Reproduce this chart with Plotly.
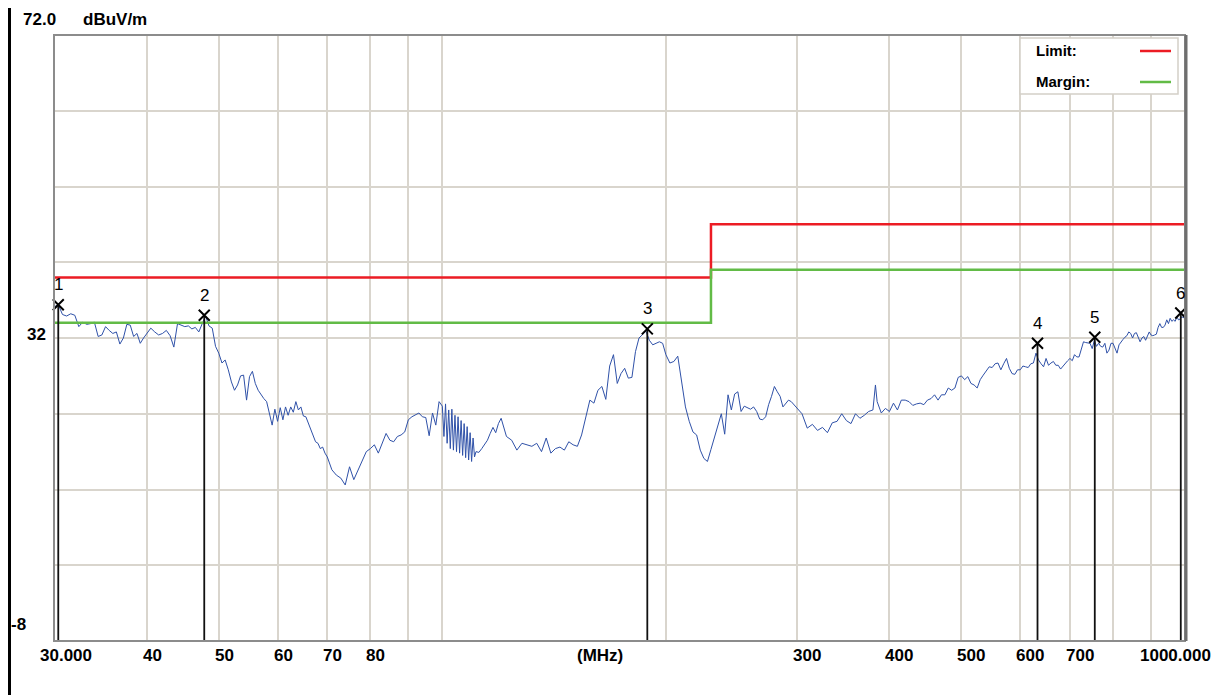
import math
import plotly.graph_objects as go

# ---------------- data ----------------
freq_mhz = [
    30.0, 30.4, 30.8, 31.2, 31.6, 32.0, 32.4, 32.8, 33.2, 33.6, 34.0, 34.4, 34.8, 35.2, 35.6, 36.0,
    36.4, 36.8, 37.2, 37.6, 38.0, 38.4, 38.8, 39.2, 39.6, 40.0,
    40.5, 41.0, 41.5, 42.0, 42.5, 43.0, 43.5, 44.0, 44.5, 45.0, 45.5, 46.0, 46.5, 47.0, 47.5, 48.0,
    48.5, 49.0, 49.5, 50.0,
    50.5, 51.0, 51.5, 52.0, 52.5, 53.0, 53.5, 54.0, 54.5, 55.0, 55.5, 56.0, 56.5, 57.0, 57.5, 58.0,
    58.5, 59.0, 59.5, 60.0,
    60.5, 61.0, 61.5, 62.0, 62.5, 63.0, 63.5, 64.0, 64.5, 65.0, 65.5, 66.0, 66.5, 67.0, 67.5, 68.0,
    68.5, 69.0, 69.5, 70.0,
    71, 72, 73, 74, 75, 76, 77, 78, 79, 80,
    81, 82, 83, 84, 85, 86, 87, 88, 89, 90,
    91, 92, 93, 94, 95, 96, 97, 98, 99, 100,
    100.5, 101, 101.5, 102, 102.5, 103, 103.5, 104, 104.5, 105, 105.5, 106, 106.5, 107, 107.5, 108,
    108.5, 109, 109.5, 110, 110.5,
    111, 112, 113, 114, 115, 116, 117, 118, 119, 120,
    122, 124, 126, 128, 130, 132, 134, 136, 138, 140,
    142, 144, 146, 148, 150, 152, 154, 156, 158, 160,
    162, 164, 166, 168, 170, 172, 174, 176, 178, 180,
    182, 184, 186, 188, 190, 192, 194, 196, 198, 200,
    202.5, 205, 207.5, 210, 212.5, 215, 217.5, 220, 222.5, 225, 227.5, 230, 232.5, 235, 237.5, 240,
    242.5, 245, 247.5, 250, 252.5, 255, 257.5, 260, 262.5, 265, 267.5, 270, 272.5, 275, 277.5, 280,
    282.5, 285, 287.5, 290, 292.5, 295, 297.5, 300,
    305, 310, 315, 320, 325, 330, 335, 340, 345, 350, 355, 360, 365, 370, 375, 380, 383, 385, 390,
    395, 400,
    405, 410, 415, 420, 425, 430, 435, 440, 445, 450, 455, 460, 465, 470, 475, 480, 485, 490, 495, 500,
    505, 510, 515, 520, 525, 530, 535, 540, 545, 550, 555, 560, 565, 570, 575, 580, 585, 590, 595, 600,
    605, 610, 615, 620, 625, 630, 635, 640, 645, 650, 655, 660, 665, 670, 675, 680, 685, 690, 695, 700,
    705, 710, 715, 720, 725, 730, 735, 740, 745, 750, 755, 760, 765, 770, 775, 780, 785, 790, 795, 800,
    805, 810, 815, 820, 825, 830, 835, 840, 845, 850, 855, 860, 865, 870, 875, 880, 885, 890, 895, 900,
    905, 910, 915, 920, 925, 930, 935, 940, 945, 950, 955, 960, 965, 970, 975, 980, 985, 990, 995, 1000,
]

level_dbuv = [
    36.1, 36.4, 35.1, 34.9, 35.2, 35.0, 33.5, 34.1, 33.8, 33.9, 34.1, 32.2, 32.4, 33.5, 33.0, 32.6,
    32.8, 31.2, 32.0, 33.8, 33.7, 32.2, 32.6, 31.3, 32.0, 32.6,
    33.3, 32.8, 32.4, 32.6, 33.0, 32.3, 30.8, 33.9, 33.7, 33.5, 33.6, 33.2, 33.4, 32.8, 33.9, 34.9,
    33.6, 33.3, 30.9, 30.0,
    28.7, 29.1, 27.8, 26.2, 25.1, 25.8, 27.0, 27.1, 23.8, 26.9, 27.6, 26.0, 25.1, 24.5, 24.0, 23.6,
    22.1, 20.5, 22.6, 21.0,
    22.8, 21.2, 22.9, 21.8, 22.9, 22.2, 23.6, 22.5, 22.9, 21.7, 21.6, 20.7, 19.9, 19.0, 18.3, 18.1,
    17.4, 17.6, 16.8, 16.3,
    14.6, 13.9, 13.5, 12.6, 15.0, 13.3, 14.6, 15.7, 17.0, 17.4,
    17.9, 16.8, 18.1, 19.4, 18.5, 18.3, 19.0, 19.2, 19.6, 21.2,
    21.6, 21.8, 22.1, 21.6, 21.5, 19.1, 22.1, 20.5, 23.6, 23.0,
    19.0, 23.3, 18.1, 22.5, 17.4, 22.6, 17.2, 21.8, 17.0, 21.6, 16.8, 21.1, 16.5, 20.7, 16.2, 20.3,
    15.9, 19.5, 15.7, 18.8, 16.3,
    17.0, 16.9, 17.4, 18.0, 18.5, 19.4, 20.2, 19.5, 20.7, 21.4,
    19.0, 18.5, 17.2, 18.1, 17.9, 17.7, 18.1, 17.0, 18.8, 16.8,
    17.4, 17.6, 17.2, 18.3, 17.9, 17.7, 19.2, 21.7, 23.8, 23.4,
    25.1, 25.6, 23.9, 28.3, 29.8, 26.0, 27.3, 28.0, 26.7, 26.8,
    30.2, 32.0, 32.5, 32.9, 31.7, 31.1, 31.3, 31.5, 31.3, 29.8,
    28.7, 28.9, 29.6, 26.2, 22.9, 21.0, 19.6, 19.2, 17.2, 16.1, 15.7, 17.3, 18.8, 20.3, 22.0, 19.3,
    24.5, 22.5, 24.6, 24.9, 22.3, 23.0, 22.8, 22.6, 22.9, 22.3, 21.3, 21.2, 21.6, 23.2, 24.3, 25.6,
    24.9, 24.3, 22.9, 23.4, 23.8, 23.6, 23.2, 22.9,
    22.0, 20.1, 20.6, 19.8, 20.2, 19.5, 20.8, 21.0, 22.0, 21.1, 20.7, 22.0, 21.4, 21.8, 22.3, 22.5,
    25.8, 23.6, 22.1, 22.7, 22.3,
    23.4, 22.5, 23.8, 23.8, 23.6, 23.1, 23.3, 23.4, 23.2, 23.8, 24.0, 24.5, 23.8, 24.5, 24.5, 25.4,
    25.1, 25.4, 26.8, 27.0,
    26.5, 26.9, 26.0, 25.8, 25.4, 26.5, 27.1, 27.6, 28.2, 28.1, 28.6, 28.7, 27.8, 28.6, 29.3, 28.0,
    27.3, 27.2, 27.8, 27.8,
    28.3, 28.2, 28.1, 28.6, 28.7, 30.0, 29.1, 28.6, 28.2, 29.3, 28.4, 28.7, 28.9, 28.4, 28.4, 27.9,
    28.3, 28.7, 29.0, 29.3,
    29.0, 29.8, 29.5, 29.5, 30.6, 31.5, 31.4, 31.3, 31.3, 30.6, 31.7, 30.9, 31.3, 30.9, 30.8, 31.3,
    30.0, 30.4, 31.3, 31.3,
    30.6, 30.0, 31.1, 31.5, 31.8, 32.1, 32.3, 32.8, 32.6, 32.0, 32.6, 32.7, 32.0, 31.5, 32.0, 32.2,
    31.7, 32.4, 32.8, 32.4,
    32.3, 32.4, 32.5, 33.4, 33.9, 33.4, 33.4, 33.7, 34.4, 33.9, 34.6, 34.2, 34.4, 34.2, 34.8, 34.4,
    34.5, 34.8, 34.7, 34.6,
]

limit_freq = [30, 230, 230, 1000]
limit_level = [40, 40, 47, 47]
margin_level = [34, 34, 41, 41]

marker_freq = [30.4, 47.8, 188.8, 633, 756, 987]
marker_level = [36.4, 35.0, 33.2, 31.3, 32.1, 35.3]
marker_label = ["1", "2", "3", "4", "5", "6"]

x_grid = [30, 40, 50, 60, 70, 80, 90, 100, 200, 300, 400, 500, 600, 700, 800, 900, 1000]
x_tick_vals = [30, 40, 50, 60, 70, 80, 300, 400, 500, 600, 700, 1000]
x_tick_text = ["30.000", "40", "50", "60", "70", "80", "300", "400", "500", "600", "700", "1000.000"]
y_grid = [2, 12, 22, 32, 42, 52, 62]
y_min, y_max = -8, 72

# ---------------- style ----------------
# the page body has an 8 px margin, so the figure is drawn 8 px smaller and
# every target screen position below is given in screen pixels
OFF = 8
W, H = 1231 - OFF, 695 - OFF
SCR_L, SCR_R, SCR_T, SCR_B = 54, 1185, 35, 641       # plot area on screen
L, T = SCR_L - OFF, SCR_T - OFF
R, B = W - (SCR_R - OFF), H - (SCR_B - OFF)
PW, PH = SCR_R - SCR_L, SCR_B - SCR_T
FONT = "Liberation Sans, Arial, sans-serif"
GRID = "#d9d5cd"
BLUE = "#2f51a8"
RED = "#ec1c24"
GREEN = "#62bb46"


def px_x(p):
    return (p - SCR_L) / PW


def px_y(p):
    return (SCR_B - p) / PH


fig = go.Figure()

fig.add_trace(go.Scatter(x=freq_mhz, y=level_dbuv, mode="lines",
                         line=dict(color=BLUE, width=1), hoverinfo="skip", showlegend=False))
fig.add_trace(go.Scatter(x=limit_freq, y=limit_level, mode="lines",
                         line=dict(color=RED, width=2.5), showlegend=False))
fig.add_trace(go.Scatter(x=limit_freq, y=margin_level, mode="lines",
                         line=dict(color=GREEN, width=2.5), showlegend=False))

vx, vy = [], []
for f, v in zip(marker_freq, marker_level):
    vx += [f, f, None]
    vy += [v, y_min, None]
fig.add_trace(go.Scatter(x=vx, y=vy, mode="lines", line=dict(color="#111111", width=1.8),
                         showlegend=False, hoverinfo="skip"))
fig.add_trace(go.Scatter(x=marker_freq, y=marker_level, mode="markers",
                         marker=dict(symbol="x-thin", size=11, line=dict(color="black", width=2)),
                         showlegend=False, cliponaxis=False))

annotations = []
for f, v, t in zip(marker_freq, marker_level, marker_label):
    annotations.append(dict(x=math.log10(f), y=v, xref="x", yref="y", text=t, showarrow=False,
                            yshift=20, font=dict(family=FONT, size=17, color="black")))

for v, t in zip(x_tick_vals, x_tick_text):
    shift = -6
    if t == "30.000":
        shift = -16
    elif t == "1000.000":
        shift = -47
    annotations.append(dict(x=math.log10(v), y=px_y(655), xref="x", yref="paper", text="<b>%s</b>" % t,
                            showarrow=False, xanchor="left", yanchor="middle", xshift=shift,
                            font=dict(family=FONT, size=17, color="black")))
annotations.append(dict(x=px_x(600), y=px_y(655), xref="paper", yref="paper", text="<b>(MHz)</b>",
                        showarrow=False, xanchor="center", yanchor="middle",
                        font=dict(family=FONT, size=17, color="black")))

annotations.append(dict(x=px_x(48), y=32, xref="paper", yref="y", text="<b>32</b>", showarrow=False,
                        xanchor="right", yanchor="middle", yshift=4,
                        font=dict(family=FONT, size=17, color="black")))
annotations.append(dict(x=px_x(28), y=y_min, xref="paper", yref="y", text="<b>-8</b>", showarrow=False,
                        xanchor="right", yanchor="middle", yshift=17,
                        font=dict(family=FONT, size=17, color="black")))
annotations.append(dict(x=px_x(21), y=px_y(19.5), xref="paper", yref="paper", text="<b>72.0</b>",
                        showarrow=False, xanchor="left", yanchor="middle",
                        font=dict(family=FONT, size=17, color="black")))
annotations.append(dict(x=px_x(81), y=px_y(19.5), xref="paper", yref="paper", text="<b>dBuV/m</b>",
                        showarrow=False, xanchor="left", yanchor="middle",
                        font=dict(family=FONT, size=17, color="black")))

annotations.append(dict(x=px_x(1034), y=px_y(51), xref="paper", yref="paper", text="<b>Limit:</b>",
                        showarrow=False, xanchor="left", yanchor="middle",
                        font=dict(family=FONT, size=15, color="black")))
annotations.append(dict(x=px_x(1034), y=px_y(81), xref="paper", yref="paper", text="<b>Margin:</b>",
                        showarrow=False, xanchor="left", yanchor="middle",
                        font=dict(family=FONT, size=15, color="black")))

shapes = [
    # legend box
    dict(type="rect", xref="paper", yref="paper", x0=px_x(1020), x1=px_x(1178), y0=px_y(94), y1=px_y(38),
         fillcolor="white", line=dict(color="#d4d0c8", width=1.5), layer="above"),
    dict(type="line", xref="paper", yref="paper", x0=px_x(1140), x1=px_x(1171), y0=px_y(51), y1=px_y(51),
         line=dict(color=RED, width=2.5), layer="above"),
    dict(type="line", xref="paper", yref="paper", x0=px_x(1140), x1=px_x(1171), y0=px_y(82), y1=px_y(82),
         line=dict(color=GREEN, width=2.5), layer="above"),
    # plot frame
    dict(type="rect", xref="paper", yref="paper", x0=0, x1=1, y0=0, y1=1,
         line=dict(color="#8c8c8c", width=2), layer="above"),
    dict(type="line", xref="paper", yref="paper", x0=px_x(1186), x1=px_x(1186), y0=0, y1=1,
         line=dict(color="#6e6e6e", width=3), layer="above"),
    # black edge at the far left of the picture
    dict(type="line", xref="paper", yref="paper", x0=px_x(9.5), x1=px_x(9.5), y0=px_y(695), y1=px_y(8),
         line=dict(color="black", width=3), layer="above"),
]

fig.update_layout(
    width=W, height=H, autosize=False,
    margin=dict(l=L, r=R, t=T, b=B, pad=0),
    paper_bgcolor="white", plot_bgcolor="white",
    showlegend=False,
    xaxis=dict(type="log", range=[math.log10(30), math.log10(1000)], tickvals=x_grid,
               showticklabels=False, ticks="", showgrid=True, gridcolor=GRID, gridwidth=1.5,
               zeroline=False, showline=False, fixedrange=True),
    yaxis=dict(range=[y_min, y_max], tickvals=y_grid, showticklabels=False, ticks="",
               showgrid=True, gridcolor=GRID, gridwidth=1.5, zeroline=False, showline=False,
               fixedrange=True),
    annotations=annotations,
    shapes=shapes,
    font=dict(family=FONT),
)

fig.write_html("out.html", config={"displayModeBar": False})
